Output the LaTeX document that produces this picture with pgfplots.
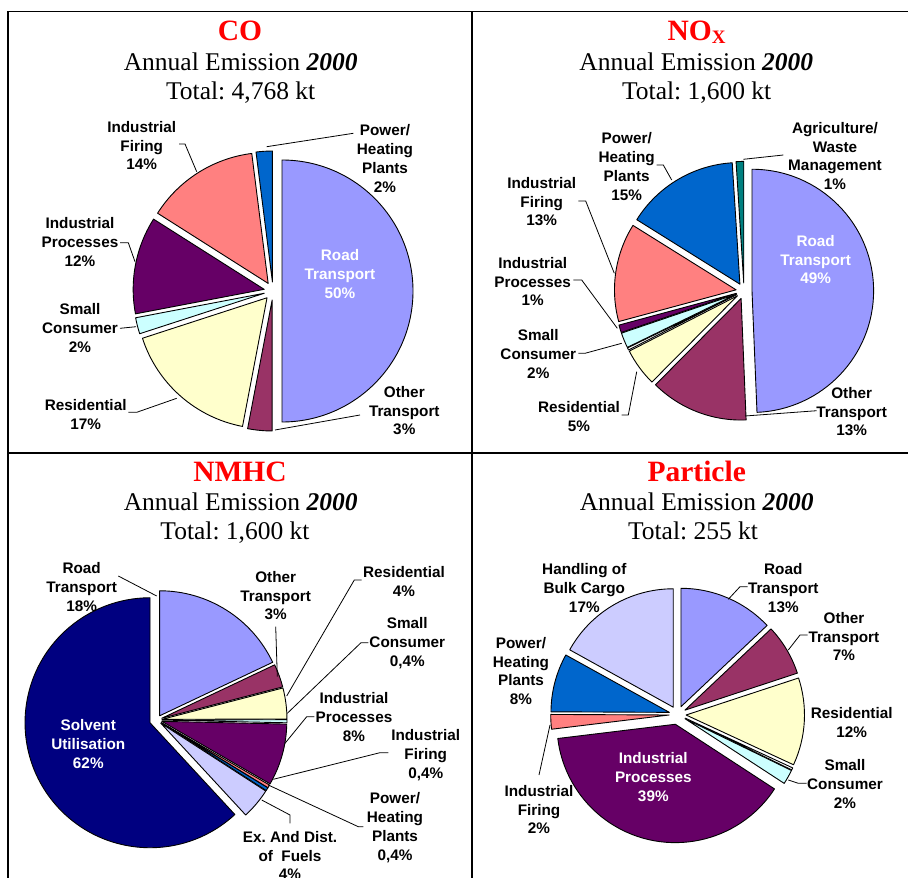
\documentclass[border=0pt]{standalone}
\usepackage{fontspec}
\setmainfont{Liberation Serif}
\newfontfamily\arial{Liberation Sans}
\usepackage{pgfplots}
\usepackage{pgfplotstable}
\pgfplotsset{compat=1.18}
\frenchspacing

\definecolor{road}{HTML}{9999FF}
\definecolor{other}{HTML}{993366}
\definecolor{resid}{HTML}{FFFFCC}
\definecolor{small}{HTML}{CCFFFF}
\definecolor{indproc}{HTML}{660066}
\definecolor{indfire}{HTML}{FF8080}
\definecolor{power}{HTML}{0066CC}
\definecolor{agri}{HTML}{008080}
\definecolor{solvent}{HTML}{000080}
\definecolor{lilac}{HTML}{CCCCFF}

% share (%), fill colour, explosion (px); clockwise from 12 o'clock
\pgfplotstableread{
share colour explode
50 road 9
3 other 9
17 resid 9
2 small 9
12 indproc 9
14 indfire 9
2 power 9
}\codata
\pgfplotstableread{
share colour explode
49 road 8
13 other 8
5 resid 8
0.3 white 8
2 small 8
1 indproc 8
13 indfire 8
15 power 8
1 agri 8
}\noxdata
\pgfplotstableread{
share colour explode
18 road 5
3 other 5
4 resid 5
0.4 small 5
8 indproc 5
0.4 indfire 5
0.4 power 5
4 lilac 5
62 solvent 7.5
}\nmhcdata
\pgfplotstableread{
share colour explode
13 road 8.5
7 other 8.5
12 resid 8.5
0.3 white 8.5
2 small 8.5
39 indproc 10
2 indfire 8.5
8 power 8.5
17 lilac 8.5
}\partdata

% turn a table into slice commands: #1 table, #2 cx, #3 cy, #4 radius, #5 result
\newcommand\buildpie[5]{%
  \gdef\pietot{0}%
  \pgfplotstableforeachcolumnelement{share}\of#1\as\cell{%
    \pgfmathsetmacro\tmp{\pietot+\cell}\global\let\pietot\tmp}%
  \pgfmathsetmacro\tmp{360/\pietot}\global\let\piedeg\tmp
  \gdef\piecum{0}\gdef#5{}%
  \pgfplotstableforeachcolumnelement{share}\of#1\as\cell{%
    \pgfplotstablegetelem{\pgfplotstablerow}{colour}\of#1\global\let\pc\pgfplotsretval
    \pgfplotstablegetelem{\pgfplotstablerow}{explode}\of#1\global\let\pe\pgfplotsretval
    \pgfmathsetmacro\pa{90-\piedeg*\piecum}%
    \pgfmathsetmacro\tmp{\piecum+\cell}\global\let\piecum\tmp
    \pgfmathsetmacro\pb{90-\piedeg*\piecum}%
    \pgfmathsetmacro\pmid{(\pa+\pb)/2}%
    \pgfmathsetmacro\px{#2+\pe*cos(\pmid)}%
    \pgfmathsetmacro\py{#3-\pe*sin(\pmid)}%
    \xdef#5{\unexpanded\expandafter{#5}\noexpand\filldraw[slice,fill=\pc]
      (axis cs:\px,\py) -- ++(\pa:#4pt) arc[start angle=\pa,end angle=\pb,radius=#4pt] -- cycle;}}}

\newcommand\labfont{\arial\bfseries\fontsize{15.3}{18.8}\selectfont}
\newcommand\subfont{\fontsize{25.5}{30}\selectfont}
\newcommand\headfont{\fontsize{29.5}{32}\selectfont\bfseries\color{red}}
\newcommand\lab[4][black]{\node[lab,text=#1] at (axis cs:#2,#3-5.6) {#4};}

\begin{document}
\begin{tikzpicture}[
  slice/.style={draw=black,line width=0.9pt,line join=round},
  lead/.style={draw=black,line width=0.8pt},
  frame/.style={draw=black,line width=1.8pt},
  lab/.style={anchor=north,align=center,inner sep=0pt,font=\labfont}]
\buildpie\codata{273}{291}{131}\copie
\buildpie\noxdata{744}{291}{121.6}\noxpie
\buildpie\nmhcdata{157}{720}{125}\nmhcpie
\buildpie\partdata{677.6}{714.5}{118.4}\partpie
\begin{axis}[
    x=1pt, y=1pt,
    xmin=0, xmax=908,
    ymin=0, ymax=878,
    y dir=reverse,
    hide axis,
]
\coordinate (bbsw) at (axis cs:0,878);
\coordinate (bbne) at (axis cs:908,0);

% frame
\draw[frame] (axis cs:8.3,878) -- (axis cs:8.3,11.5) -- (axis cs:908,11.5);
\draw[frame] (axis cs:8.3,453.3) -- (axis cs:908,453.3);
\draw[frame] (axis cs:472.3,11.5) -- (axis cs:472.3,878);

% pies
\copie
\noxpie
\nmhcpie
\partpie

% titles
\node[anchor=base] at (axis cs:240,40) {\headfont CO};
\node[anchor=base] at (axis cs:240.7,70) {\subfont Annual Emission \textbf{\textit{2000}}};
\node[anchor=base] at (axis cs:240.7,99) {\subfont Total: 4,768 kt};
\node[anchor=base] at (axis cs:696.5,40) {\headfont NO\raisebox{-3.5pt}{\fontsize{19}{19}\selectfont X}};
\node[anchor=base] at (axis cs:696.3,70) {\subfont Annual Emission \textbf{\textit{2000}}};
\node[anchor=base] at (axis cs:696.7,99) {\subfont Total: 1,600 kt};
\node[anchor=base] at (axis cs:240,481.7) {\headfont NMHC};
\node[anchor=base] at (axis cs:240.7,510.7) {\subfont Annual Emission \textbf{\textit{2000}}};
\node[anchor=base] at (axis cs:235,539.3) {\subfont Total: 1,600 kt};
\node[anchor=base] at (axis cs:696.7,481.7) {\headfont Particle};
\node[anchor=base] at (axis cs:696.7,510.7) {\subfont Annual Emission \textbf{\textit{2000}}};
\node[anchor=base] at (axis cs:693,539.3) {\subfont Total: 255 kt};

% CO labels
\draw[lead] (axis cs:179,144) -- (axis cs:185,144) -- (axis cs:196.7,171.7);
\draw[lead] (axis cs:353.3,133.3) -- (axis cs:266.7,146.7);
\draw[lead] (axis cs:120,242.7) -- (axis cs:128.3,242.7) -- (axis cs:135,261.7);
\draw[lead] (axis cs:120,328.3) -- (axis cs:136,326.7);
\draw[lead] (axis cs:128.3,412.3) -- (axis cs:136.7,412.3) -- (axis cs:176.7,398.3);
\draw[lead] (axis cs:360,415) -- (axis cs:275,430);
\lab{141.7}{126.7}{Industrial\\Firing\\14\%}
\lab{385}{130}{Power/\\Heating\\Plants\\2\%}
\lab{80}{223.3}{Industrial\\Processes\\12\%}
\lab{80}{309.3}{Small\\Consumer\\2\%}
\lab{85.7}{405}{Residential\\17\%}
\lab[white]{340}{255}{Road\\Transport\\50\%}
\lab{404.3}{391.7}{Other\\Transport\\3\%}

% NOx labels
\draw[lead] (axis cs:783.3,155) -- (axis cs:743.3,159.3);
\draw[lead] (axis cs:656.7,165) -- (axis cs:663.3,165) -- (axis cs:671.7,180);
\draw[lead] (axis cs:578.3,201) -- (axis cs:585.7,201) -- (axis cs:614.3,273.3);
\draw[lead] (axis cs:573.3,280) -- (axis cs:581.7,280) -- (axis cs:617.3,328.3);
\draw[lead] (axis cs:578.3,353.3) -- (axis cs:585,353.3) -- (axis cs:621.7,343.3);
\draw[lead] (axis cs:621.7,415) -- (axis cs:628.3,415) -- (axis cs:636.7,371.7);
\draw[lead] (axis cs:816.7,410.7) -- (axis cs:745,416);
\lab{835}{127.7}{Agriculture/\\Waste\\Management\\1\%}
\lab{626.7}{138.3}{Power/\\Heating\\Plants\\15\%}
\lab{541.7}{182.7}{Industrial\\Firing\\13\%}
\lab{532.7}{262.7}{Industrial\\Processes\\1\%}
\lab{538.3}{335}{Small\\Consumer\\2\%}
\lab{579}{406.7}{Residential\\5\%}
\lab[white]{815.7}{240.7}{Road\\Transport\\49\%}
\lab{851.7}{392.7}{Other\\Transport\\13\%}

% NMHC labels
\draw[lead] (axis cs:118.3,576) -- (axis cs:156.7,596);
\draw[lead] (axis cs:275.7,626.7) -- (axis cs:277.3,676.7);
\draw[lead] (axis cs:361.7,580) -- (axis cs:354.3,580) -- (axis cs:286.7,696);
\draw[lead] (axis cs:368.3,642.7) -- (axis cs:361,642.7) -- (axis cs:287.3,713.3);
\draw[lead] (axis cs:314.3,716.7) -- (axis cs:306.7,716.7) -- (axis cs:285,743.3);
\draw[lead] (axis cs:388.3,752.7) -- (axis cs:380,752.7) -- (axis cs:273.3,779.3);
\draw[lead] (axis cs:268.3,785) -- (axis cs:358.3,826.7) -- (axis cs:363.3,826.7);
\draw[lead] (axis cs:290,823.3) -- (axis cs:290,815) -- (axis cs:261.7,800);
\lab{81.7}{568.3}{Road\\Transport\\18\%}
\lab{275.7}{576.7}{Other\\Transport\\3\%}
\lab{404}{571.7}{Residential\\4\%}
\lab{407.3}{623.3}{Small\\Consumer\\0,4\%}
\lab{354}{698.3}{Industrial\\Processes\\8\%}
\lab{425.7}{735}{Industrial\\Firing\\0,4\%}
\lab{395}{798.3}{Power/\\Heating\\Plants\\0,4\%}
\lab{290}{836.7}{Ex. And Dist.\\of\ \ Fuels\\4\%}
\lab[white]{88.3}{725}{Solvent\\Utilisation\\62\%}

% Particle labels
\draw[lead] (axis cs:747.7,586.7) -- (axis cs:740,586.7) -- (axis cs:728.3,599.3);
\draw[lead] (axis cs:807.7,635) -- (axis cs:800,635) -- (axis cs:788.3,650);
\draw[lead] (axis cs:806.7,783.3) -- (axis cs:798.3,783.3) -- (axis cs:788.3,780);
\draw[lead] (axis cs:539,775) -- (axis cs:550,725);
\lab{584.3}{569}{Handling of\\Bulk Cargo\\17\%}
\lab{783.3}{569}{Road\\Transport\\13\%}
\lab{844}{617.7}{Other\\Transport\\7\%}
\lab{851.7}{713.3}{Residential\\12\%}
\lab{845}{765}{Small\\Consumer\\2\%}
\lab{539}{790.7}{Industrial\\Firing\\2\%}
\lab{521}{642.7}{Power/\\Heating\\Plants\\8\%}
\lab[white]{653.3}{758.3}{Industrial\\Processes\\39\%}
\end{axis}
\pgfresetboundingbox
\path (bbsw) rectangle (bbne);
\end{tikzpicture}
\end{document}
